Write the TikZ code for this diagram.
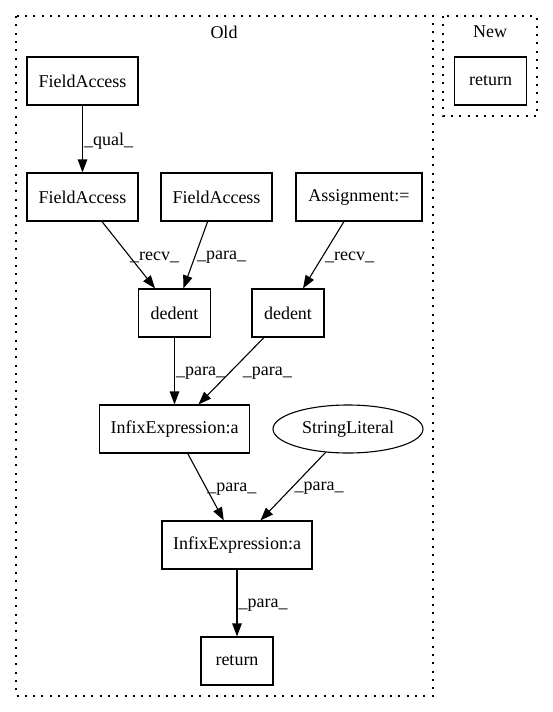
\documentclass[tikz,border=0pt]{standalone}
\usepackage{fontspec}
\setmainfont{Liberation Serif}
\usetikzlibrary{arrows.meta,shapes.geometric}

\begin{document}
\begin{tikzpicture}[% styles for the whole picture
		x=1pt,y=-1pt,
		>={Triangle[length=13pt,width=9.5pt]},
		every node/.style={
			font=\fontsize{18}{21}\selectfont	% same text size for nodes and labels
		},
		box/.style={rectangle,draw,line width=1.1pt,minimum height=48pt,minimum width=72pt,inner sep=0pt},
		oval/.style={ellipse,draw,line width=1.1pt,minimum height=48pt,minimum width=150pt,inner sep=0pt},
		lbl/.style={anchor=west,inner sep=1pt,yshift=-2pt},
		cluster/.style={draw,line width=1.3pt,dash pattern=on 2pt off 6.3pt},
		every edge/.style={draw,line width=1.1pt}
	]
	\useasboundingbox (0,0) rectangle (553,712);
	% the two clusters
	\draw[cluster] (16,16) rectangle (433,696);
	\draw[cluster] (443,16) rectangle (537,116);
	\node(OldLabel) at (224,32){Old};
	\node(NewLabel) at (490,32){New};
	% old version
	\node[box,minimum width=111pt](FA1) at (82.5,81){FieldAccess};
	\node[box,minimum width=111pt](FA2) at (82.5,197){FieldAccess};
	\node[box,minimum width=111pt](FA3) at (216.5,197){FieldAccess};
	\node[box,minimum width=126pt](Asg) at (359,197){Assignment:=};
	\node[box](Ded1) at (174.5,313){dedent};
	\node[box](Ded2) at (288,313){dedent};
	\node[box,minimum width=150pt](Inf1) at (174.5,429){InfixExpression:a};
	\node[oval](Str) at (348,429){StringLiteral};
	\node[box,minimum width=150pt](Inf2) at (237,545){InfixExpression:a};
	\node[box](Ret) at (237,661){return};
	% new version
	\node[box](NewRet) at (490.5,81){return};
	\path[->]
	(FA1)edge node[lbl] {\_qual\_} (FA2)
	(FA2)edge node[lbl] {\_recv\_} (Ded1)
	(FA3)edge node[lbl] {\_para\_} (Ded1)
	(Asg)edge node[lbl] {\_recv\_} (Ded2)
	(Ded1)edge node[lbl] {\_para\_} (Inf1)
	(Ded2)edge node[lbl,xshift=10pt] {\_para\_} (Inf1)
	(Inf1)edge node[lbl] {\_para\_} (Inf2)
	(Str)edge node[lbl] {\_para\_} (Inf2)
	(Inf2)edge node[lbl] {\_para\_} (Ret)
	;
\end{tikzpicture}
\end{document}
